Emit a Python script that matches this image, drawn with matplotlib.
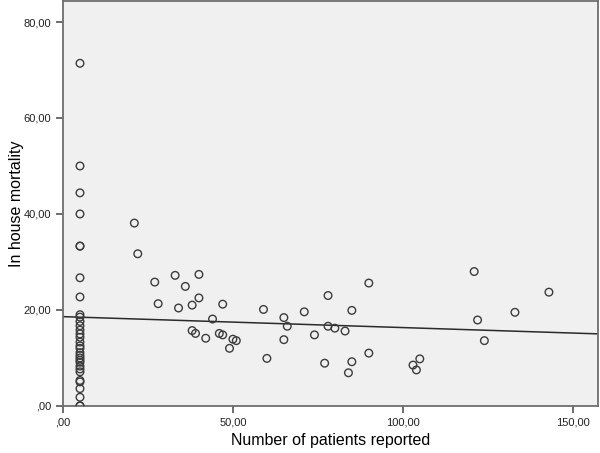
import matplotlib
matplotlib.use('Agg')
import matplotlib.pyplot as plt
from matplotlib.ticker import FuncFormatter

# hospitals with few reported patients (all at x = 5)
small_x = [5] * 32
small_y = [71.4, 50.0, 44.4, 40.0, 33.3, 33.3, 26.7, 22.7, 19.0, 18.5,
           17.6, 16.7, 15.8, 15.0, 14.3, 13.3, 12.5, 12.0, 11.1, 10.5,
           10.0, 9.5, 9.1, 8.3, 7.7, 7.1, 5.3, 5.0, 3.6, 1.8, 0.0, 0.0]

other_x = [21, 22, 27, 33, 40, 36, 40, 28, 34, 38, 47, 44, 38, 39, 42, 46,
           47, 50, 51, 49, 59, 65, 66, 65, 60, 71, 74, 78, 78, 80, 83, 85,
           77, 85, 84, 90, 90, 103, 104, 105, 121, 122, 124, 133, 143]
other_y = [38.1, 31.7, 25.8, 27.2, 27.4, 24.9, 22.5, 21.3, 20.4, 21.0, 21.2,
           18.1, 15.7, 15.1, 14.1, 15.1, 14.8, 13.9, 13.6, 12.0, 20.1, 18.4,
           16.6, 13.8, 9.9, 19.6, 14.8, 23.0, 16.6, 16.2, 15.6, 19.9, 8.9,
           9.2, 6.9, 25.6, 11.0, 8.5, 7.5, 9.8, 28.0, 17.9, 13.6, 19.5, 23.7]

x_vals = small_x + other_x
y_vals = small_y + other_y

# linear fit line as shown in the chart
fit_intercept = 18.6
fit_slope = -0.0228
fit_x = [0, 157.5]

plt.rcParams['font.family'] = ['Liberation Sans', 'DejaVu Sans']

fig = plt.figure(figsize=(6.0, 4.53), dpi=100)
ax = fig.add_axes([0.105, 0.104, 0.892, 0.894])
ax.set_facecolor('#f0f0f0')

ax.scatter(x_vals, y_vals, s=30, facecolors='none', edgecolors='#3c3c3c',
           linewidths=1.0, zorder=3)
ax.plot(fit_x, [fit_intercept + fit_slope * v for v in fit_x],
        color='#2a2a2a', linewidth=1.1, zorder=2)

ax.set_xlim(0, 157.5)
ax.set_ylim(0, 84.4)
ax.set_xticks([0, 50, 100, 150])
ax.set_yticks([0, 20, 40, 60, 80])


def comma_fmt(v, pos):
    s = f'{v:.2f}'.replace('.', ',')
    if s.startswith('0,'):
        s = s[1:]
    return s


ax.xaxis.set_major_formatter(FuncFormatter(comma_fmt))
ax.yaxis.set_major_formatter(FuncFormatter(comma_fmt))
ax.tick_params(axis='both', direction='out', length=5, width=1.2,
               color='#555555', labelsize=8, labelcolor='#222222')

for sp in ax.spines.values():
    sp.set_color('#6e6e6e')
    sp.set_linewidth(1.3)

ax.set_xlabel('Number of patients reported', fontsize=11.5)
ax.set_ylabel('In house mortality', fontsize=11.5)
ax.xaxis.set_label_coords(0.5, -0.066)
ax.yaxis.set_label_coords(-0.072, 0.5)

fig.savefig('out.png', dpi=100)
